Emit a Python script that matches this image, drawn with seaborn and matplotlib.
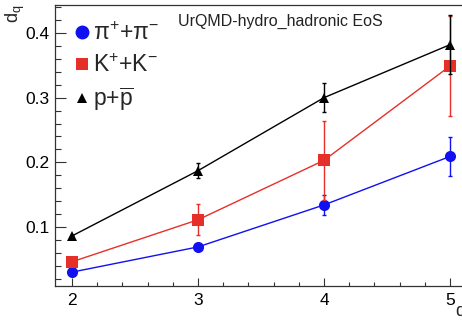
import numpy as np
import pandas as pd
import matplotlib
matplotlib.use("Agg")
import matplotlib.pyplot as plt
import seaborn as sns
from matplotlib.ticker import MultipleLocator, FixedLocator

# order q of the moments
q_values = [2, 3, 4, 5]

# d_q for each hadron species (UrQMD-hydro, hadronic EoS)
pion_dq = [0.030, 0.069, 0.134, 0.209]
pion_err = [0.002, 0.004, 0.016, 0.030]
kaon_dq = [0.046, 0.111, 0.203, 0.349]
kaon_err = [0.003, 0.024, 0.061, 0.077]
proton_dq = [0.086, 0.187, 0.300, 0.382]
proton_err = [0.002, 0.012, 0.022, 0.046]

species = [r"$\mathregular{\pi^{+}{+}\pi^{-}}$",
           r"$\mathregular{K^{+}{+}K^{-}}$",
           r"$\mathregular{p{+}\overline{p}}$"]
colors = ["#1010f0", "#e5302a", "#000000"]
markers = ["o", "s", "^"]
marker_sizes = [8.0, 8.0, 7.5]

sns.set_theme(style="white")
plt.rcParams["font.family"] = ["Liberation Sans", "DejaVu Sans"]
plt.rcParams["mathtext.fontset"] = "custom"
plt.rcParams["mathtext.rm"] = "Liberation Sans"
plt.rcParams["mathtext.it"] = "Liberation Sans"

df = pd.DataFrame({
    "q": q_values * 3,
    "dq": pion_dq + kaon_dq + proton_dq,
    "err": pion_err + kaon_err + proton_err,
    "species": [species[0]] * 4 + [species[1]] * 4 + [species[2]] * 4,
})

fig = plt.figure(figsize=(4.62, 3.21), dpi=100)
W, H = 462, 321
left_px, right_px, top_px, bottom_px = 55, 480, 5, 286
ax = fig.add_axes([left_px / W, 1 - bottom_px / H,
                   (right_px - left_px) / W, (bottom_px - top_px) / H])

sns.lineplot(data=df, x="q", y="dq", hue="species", palette=colors,
             style="species", markers=markers, dashes=False,
             linewidth=1.0, markeredgewidth=0, ax=ax, legend=False,
             errorbar=None, sort=True)

# marker sizes and error bars per species
for i, name in enumerate(species):
    sub = df[df["species"] == name]
    ax.errorbar(sub["q"], sub["dq"], yerr=sub["err"], fmt="none",
                ecolor=colors[i], elinewidth=1.0, capsize=1.5,
                capthick=1.0, zorder=3)
for line, ms in zip(ax.lines[:3], marker_sizes):
    line.set_markersize(ms)

ax.set_xlim(2 - 17 / 126, 2 + (right_px - 72) / 126)
y_per_px = 0.1 / 64.5
ax.set_ylim(0.1 - (bottom_px - 227) * y_per_px, 0.4 + (33 - top_px) * y_per_px)

ax.xaxis.set_major_locator(FixedLocator(q_values))
ax.xaxis.set_minor_locator(MultipleLocator(0.2))
ax.yaxis.set_major_locator(MultipleLocator(0.1))
ax.yaxis.set_minor_locator(MultipleLocator(0.02))
ax.set_yticks([0.1, 0.2, 0.3, 0.4])
ax.set_yticklabels(["0.1", "0.2", "0.3", "0.4"])
ax.set_xticklabels([str(v) for v in q_values])

ax.tick_params(axis="both", which="both", direction="in", colors="#333333",
               labelcolor="black", labelsize=12.5, width=0.8,
               bottom=True, left=True, top=False, right=False)
ax.tick_params(axis="y", which="major", length=8, pad=4)
ax.tick_params(axis="y", which="minor", length=4.3)
ax.tick_params(axis="x", which="major", length=6, pad=5)
ax.tick_params(axis="x", which="minor", length=3)
for s in ax.spines.values():
    s.set_color("#333333")
    s.set_linewidth(0.9)
ax.set_xlabel("")
ax.set_ylabel("")

# legend built from the same marker styles
handles = [plt.Line2D([], [], color=c, marker=m, linestyle="none",
                      markersize=ms, markeredgewidth=0)
           for c, m, ms in zip(colors, markers, [10.0, 9.0, 7.5])]
fig.legend(handles, species, loc="upper left",
           bbox_to_anchor=(68 / W, 1 - 22 / H), frameon=False,
           fontsize=16.5, handletextpad=-0.1, labelspacing=0.38,
           handlelength=1.2, borderaxespad=0, borderpad=0)

fig.text(178 / W, 1 - 21 / H, "UrQMD-hydro_hadronic EoS", fontsize=11.5,
         ha="left", va="center", color="#222222")
fig.text(15 / W, 1 - 5 / H, r"$\mathregular{d_q}$", fontsize=13,
         rotation=90, ha="center", va="top")
fig.text(455 / W, 1 - 311 / H, "q", fontsize=13, ha="left", va="center")

fig.savefig("out.png", dpi=100)
